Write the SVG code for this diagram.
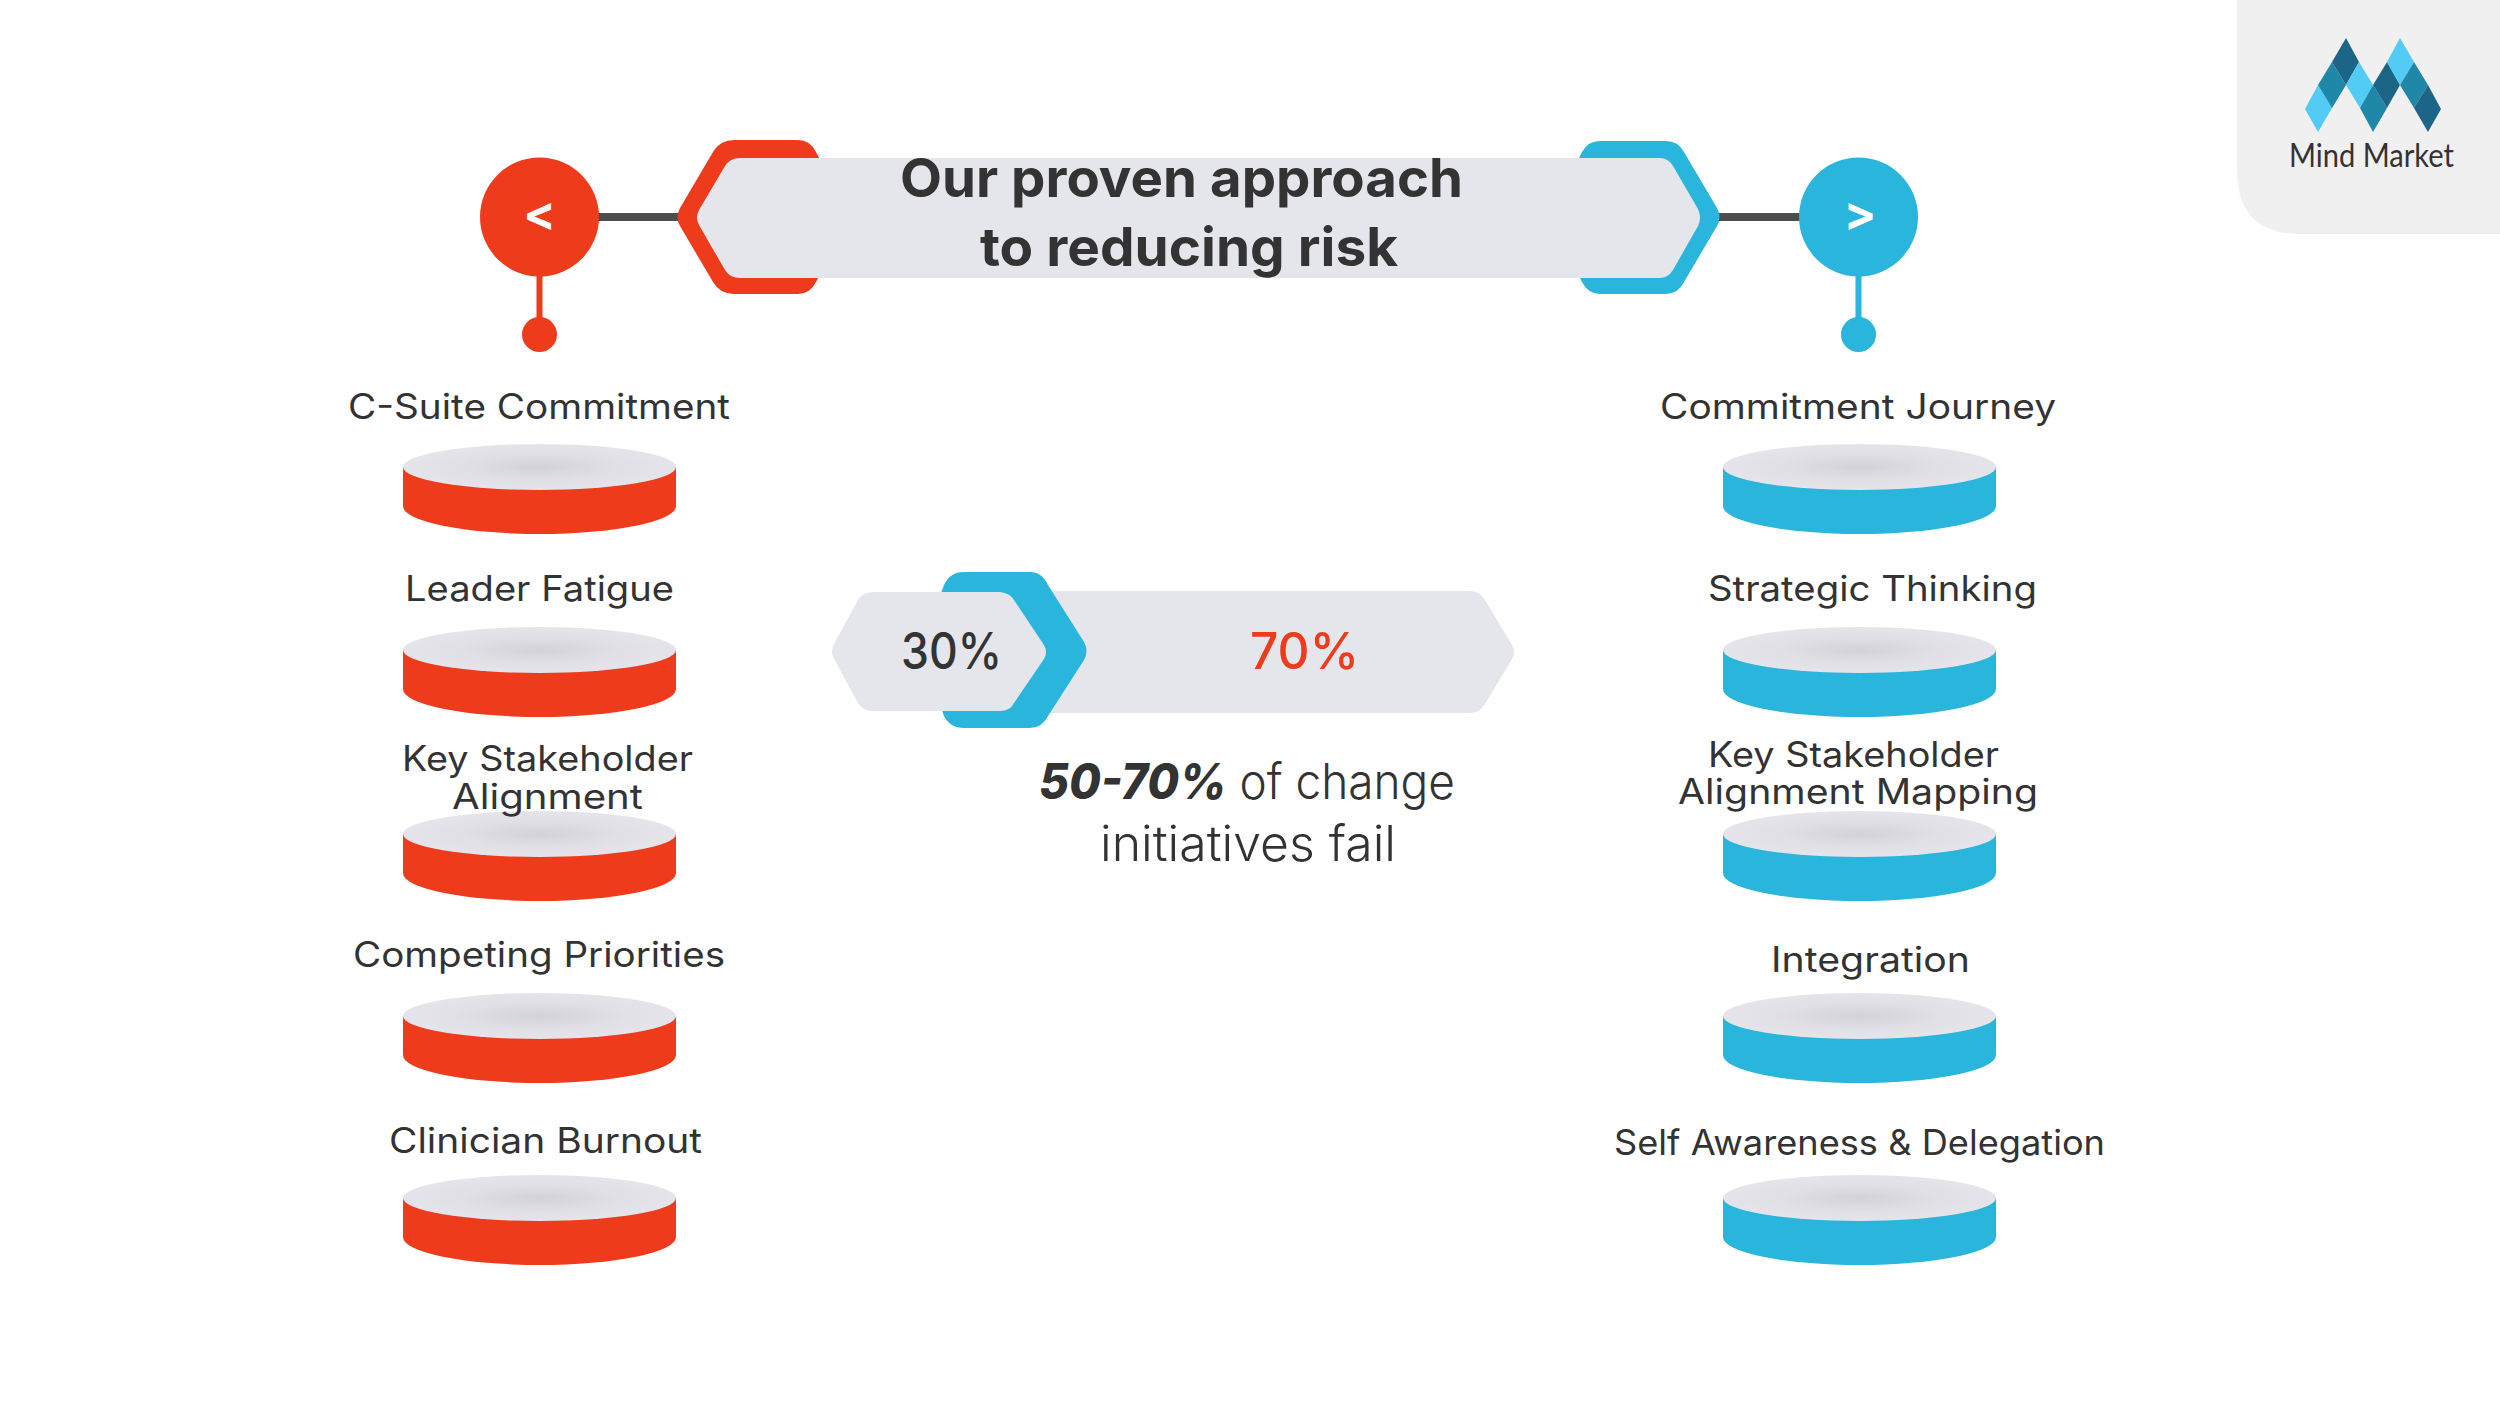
<svg xmlns="http://www.w3.org/2000/svg" width="2500" height="1406" viewBox="0 0 2500 1406">
<style>
text{font-family:"Inter","Noto Sans","Liberation Sans",sans-serif;fill:#333}
.lbl{font-size:35px;font-weight:400}
.ttl{font-size:54px;font-weight:700}
.pct{font-size:51px;font-weight:500}
.cap{font-size:49px;font-weight:300}
.arw{font-size:48px;font-weight:700;fill:#fff;text-anchor:middle}
.red{fill:#ee3b1c}.blue{fill:#29b5dc}.grey{fill:#e5e5ec}
.d{fill:#1c6587}.m{fill:#1f87a8}.l{fill:#52cbf5}
.conn{stroke:#4d4d4d;stroke-width:8;fill:none}
.stemr{stroke:#ee3b1c;stroke-width:6;fill:none}
.stemb{stroke:#29b5dc;stroke-width:6;fill:none}
</style>
<defs>
<radialGradient id="top" cx="0.5" cy="0.5" r="0.5">
<stop offset="0" stop-color="#d2d2d8"/><stop offset="0.6" stop-color="#e0e0e6"/><stop offset="1" stop-color="#e4e4ea"/>
</radialGradient>
<g id="disc">
<path d="M-136.500,0 V39 A136.500,28 0 0 0 136.500,39 V0 Z"/>
<ellipse cx="0" cy="0" rx="136.500" ry="23" fill="url(#top)"/>
</g>
</defs>
<rect width="2500" height="1406" fill="#fff"/>

<g id="logo">
<path d="M2237,0 H2500 V234 H2300 Q2237,234 2237,170 Z" fill="#f0f0f0"/>
<polygon class="l" points="2318,85 2332,108 2318,132 2305,109"/>
<polygon class="m" points="2332,62 2346,85 2332,108 2318,85"/>
<polygon class="d" points="2346,38 2359,62 2346,85 2332,62"/>
<polygon class="l" points="2359,62 2373,85 2360,108 2346,85"/>
<polygon class="m" points="2373,85 2387,108 2373,132 2360,108"/>
<polygon class="d" points="2387,62 2400,85 2387,108 2373,85"/>
<polygon class="l" points="2400,38 2414,62 2400,85 2387,62"/>
<polygon class="m" points="2414,62 2428,85 2414,108 2400,85"/>
<polygon class="d" points="2428,85 2441,109 2428,132 2414,108"/>
<text x="2289" y="167" textLength="165" lengthAdjust="spacingAndGlyphs" style="font-family:'Lato','Open Sans',sans-serif;font-size:33px;font-weight:400">Mind Market</text>
</g>

<g id="connectors">
<line class="conn" x1="595" y1="217" x2="685" y2="217"/>
<line class="conn" x1="1715" y1="217" x2="1805" y2="217"/>
<line class="stemr" x1="539.500" y1="270" x2="539.500" y2="325"/>
<line class="stemb" x1="1858.500" y1="270" x2="1858.500" y2="325"/>
</g>

<g id="title-banner">
<path class="red" d="M680,208 L713,152 Q720,140 734,140 L798,140 Q810,140 816,152 L850,217 L816,282 Q810,294 798,294 L734,294 Q720,294 713,282 L680,226 Q675,217 680,208 Z"/>
<path class="blue" d="M1717,208 L1684,152 Q1678,141 1666,141 L1600,141 Q1588,141 1582,152 L1550,217 L1582,282 Q1588,294 1600,294 L1666,294 Q1678,294 1684,282 L1717,226 Q1722,217 1717,208 Z"/>
<path class="grey" d="M699,210 L725,166 Q730,158 740,158 L1660,158 Q1668,158 1673,166 L1698,209 Q1702,217.500 1698,226 L1673,270 Q1668,278 1660,278 L740,278 Q730,278 725,270 L699,225 Q695,217.500 699,210 Z"/>
<text class="ttl" x="900" y="197" textLength="563" lengthAdjust="spacingAndGlyphs">Our proven approach</text>
<text class="ttl" x="980" y="266" textLength="418" lengthAdjust="spacingAndGlyphs">to reducing risk</text>
</g>

<g id="left-head">
<circle class="red" cx="539.500" cy="217" r="59.500"/>
<circle class="red" cx="539.500" cy="334.500" r="17.500"/>
<text class="arw" x="539.500" y="230">&lt;</text>
</g>
<g id="right-head">
<circle class="blue" cx="1858.500" cy="217" r="59.500"/>
<circle class="blue" cx="1858.500" cy="334.500" r="17.500"/>
<text class="arw" x="1860" y="230">&gt;</text>
</g>

<g id="stat-bar">
<path class="grey" d="M1000,591 H1470 Q1480,591 1485,600 L1512,645 Q1516,652 1512,659 L1485,704 Q1480,713 1470,713 H1000 Z"/>
<path class="blue" d="M935,609 L944,585 Q950,572 964,572 L1030,572 Q1042,572 1048,585 L1084,642 Q1089,651 1084,660 L1048,716 Q1042,728 1030,728 L964,728 Q950,728 944,716 L935,690 Z"/>
<path class="grey" d="M834,644 L858,600 Q863,592 873,592 H1000 Q1010,593 1014,600 L1044,645 Q1048,652 1044,659 L1014,703 Q1010,711 1000,711 H873 Q863,711 858,703 L834,659 Q830,652 834,644 Z"/>
<text class="pct" x="901" y="669" textLength="101" lengthAdjust="spacingAndGlyphs">30%</text>
<text class="pct" x="1250" y="669" textLength="109" lengthAdjust="spacingAndGlyphs" style="fill:#ee3b1c">70%</text>
<text class="cap" x="1039" y="799" textLength="416" lengthAdjust="spacingAndGlyphs"><tspan style="font-weight:800;font-style:italic">50-70%</tspan> of change</text>
<text class="cap" x="1100" y="861" textLength="296" lengthAdjust="spacingAndGlyphs">initiatives fail</text>
</g>

<g id="l1"><use href="#disc" class="red" x="539.500" y="467"/><text class="lbl" x="348" y="419" textLength="382" lengthAdjust="spacingAndGlyphs">C-Suite Commitment</text></g>
<g id="l2"><use href="#disc" class="red" x="539.500" y="650"/><text class="lbl" x="405" y="601" textLength="269" lengthAdjust="spacingAndGlyphs">Leader Fatigue</text></g>
<g id="l3"><use href="#disc" class="red" x="539.500" y="834"/><text class="lbl" x="402" y="771" textLength="291" lengthAdjust="spacingAndGlyphs">Key Stakeholder</text><text class="lbl" x="452" y="809" textLength="191" lengthAdjust="spacingAndGlyphs">Alignment</text></g>
<g id="l4"><use href="#disc" class="red" x="539.500" y="1016"/><text class="lbl" x="353" y="967" textLength="372" lengthAdjust="spacingAndGlyphs">Competing Priorities</text></g>
<g id="l5"><use href="#disc" class="red" x="539.500" y="1198"/><text class="lbl" x="389" y="1153" textLength="313" lengthAdjust="spacingAndGlyphs">Clinician Burnout</text></g>

<g id="r1"><use href="#disc" class="blue" x="1859.500" y="467"/><text class="lbl" x="1660" y="419" textLength="396" lengthAdjust="spacingAndGlyphs">Commitment Journey</text></g>
<g id="r2"><use href="#disc" class="blue" x="1859.500" y="650"/><text class="lbl" x="1708" y="601" textLength="329" lengthAdjust="spacingAndGlyphs">Strategic Thinking</text></g>
<g id="r3"><use href="#disc" class="blue" x="1859.500" y="834"/><text class="lbl" x="1708" y="767" textLength="291" lengthAdjust="spacingAndGlyphs">Key Stakeholder</text><text class="lbl" x="1678" y="804" textLength="360" lengthAdjust="spacingAndGlyphs">Alignment Mapping</text></g>
<g id="r4"><use href="#disc" class="blue" x="1859.500" y="1016"/><text class="lbl" x="1771" y="972" textLength="199" lengthAdjust="spacingAndGlyphs">Integration</text></g>
<g id="r5"><use href="#disc" class="blue" x="1859.500" y="1198"/><text class="lbl" x="1614" y="1155" textLength="491" lengthAdjust="spacingAndGlyphs">Self Awareness &amp; Delegation</text></g>
</svg>
